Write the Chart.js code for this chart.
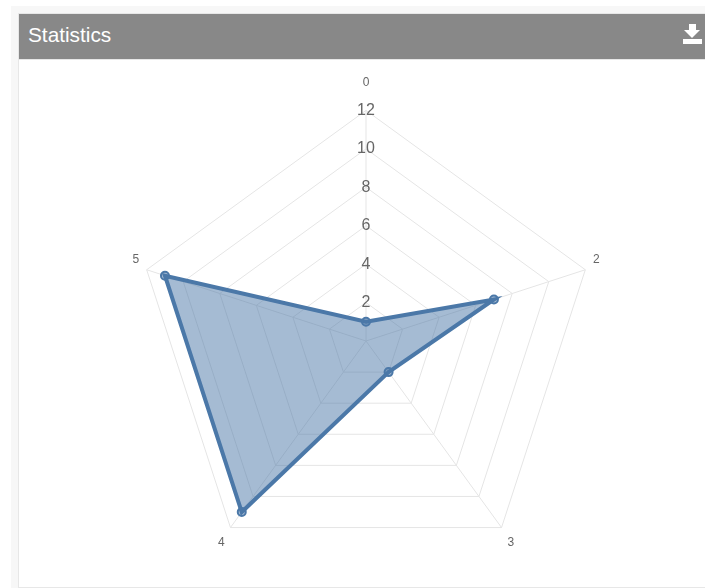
<!DOCTYPE html>
<html>
<head>
<meta charset="utf-8">
<title>Statistics</title>
<script src="https://cdn.jsdelivr.net/npm/chart.js@4/dist/chart.umd.min.js"></script>
<style>
  html, body { margin: 0; padding: 0; background: #fff; overflow: hidden; }
  body { width: 705px; height: 588px; position: relative; font-family: "Liberation Sans", Arial, sans-serif; }
  .panel { position: absolute; left: 11px; top: 6px; width: 720px; height: 600px; background: #f7f7f7; }
  .box { position: absolute; left: 18px; top: 13px; width: 720px; height: 575px; background: #fff; border: 1px solid #e7e7e7; box-sizing: border-box; }
  .head { position: absolute; left: 19px; top: 14px; width: 700px; height: 45px; background: #888; color: #fff; font-size: 20.8px; line-height: 42px; text-indent: 9px; border-bottom: 1px solid #e7e7e7; }
  .icon { position: absolute; left: 683px; top: 24px; width: 19px; height: 20px; }
  .plot { position: absolute; left: 23px; top: 63px; width: 682px; height: 523px; overflow: hidden; }
</style>
</head>
<body>
<div class="panel"></div>
<div class="box"></div>
<div class="head">Statistics</div>
<svg class="icon" viewBox="0 0 19 20"><path fill="#fff" d="M6 0h7v6h4l-8 8-8-8h5zM0 15h19v5H0z"/></svg>
<div class="plot"><canvas id="chart" width="686" height="532"></canvas></div>
<script>
const categories = ["0", "2", "3", "4", "5"];
const seriesValues = [1, 7, 2, 11, 11];
const labelGaps = [11, -2, 0, 0, -2];
const scaleMax = 12;
const scaleStep = 2;

new Chart(document.getElementById("chart"), {
  type: "radar",
  data: {
    labels: categories,
    datasets: [{
      data: seriesValues,
      borderColor: "#4b78a8",
      borderWidth: 4,
      backgroundColor: "rgba(75,120,168,0.5)",
      pointRadius: 4,
      pointBorderWidth: 2,
      pointBorderColor: "#4b78a8",
      pointBackgroundColor: "rgba(75,120,168,0.5)",
      tension: 0
    }]
  },
  options: {
    responsive: false,
    animation: false,
    plugins: { legend: { display: false }, tooltip: { enabled: false } },
    scales: {
      r: {
        min: 0,
        max: scaleMax,
        beginAtZero: true,
        grid: { color: "#e5e5e5", lineWidth: 1 },
        angleLines: { color: "#e5e5e5" },
        ticks: {
          stepSize: scaleStep,
          showLabelBackdrop: false,
          color: "#666",
          font: { family: "'Liberation Sans', Arial, sans-serif", size: 16 },
          callback: v => (v === 0 ? "" : String(v))
        },
        pointLabels: {
          color: "#666",
          padding: ctx => labelGaps[ctx.index],
          font: { family: "'Liberation Sans', Arial, sans-serif", size: 12 }
        }
      }
    }
  }
});
</script>
</body>
</html>
